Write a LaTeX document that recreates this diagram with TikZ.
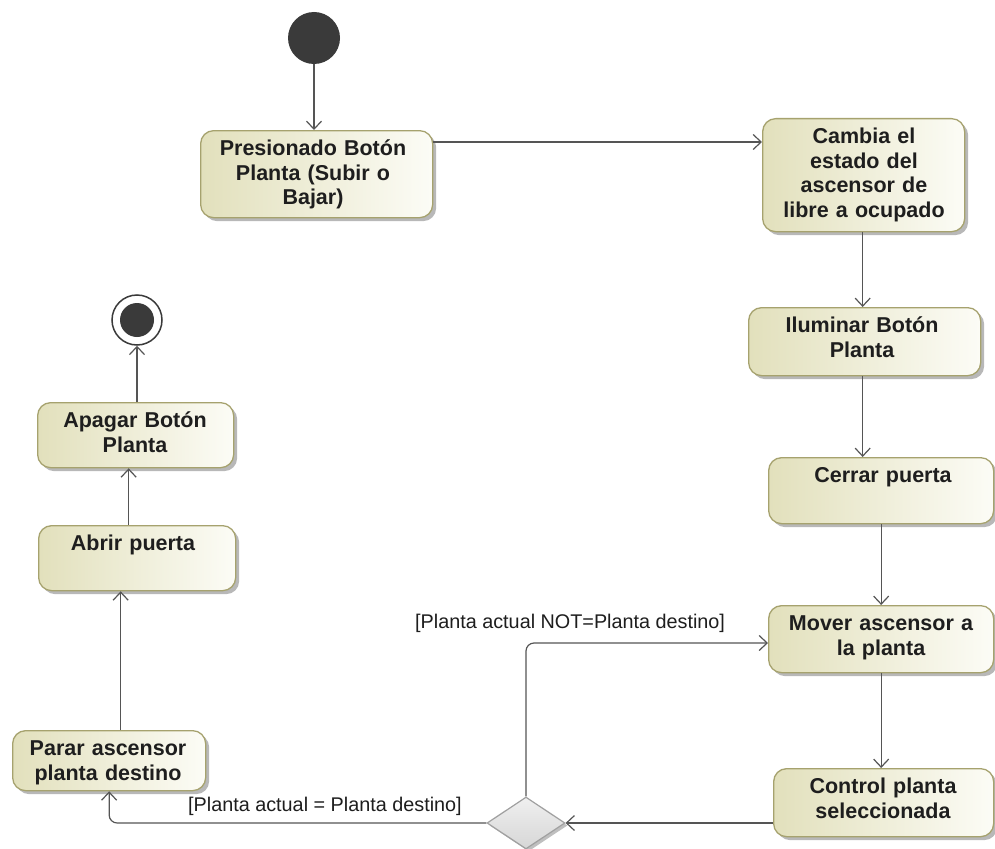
\documentclass[tikz,border=0pt]{standalone}
\usepackage{fontspec}
\setmainfont{Liberation Sans}
\usetikzlibrary{arrows.meta,shapes.geometric,shadows}

\definecolor{boxL}{RGB}{226,224,188}
\definecolor{boxR}{RGB}{252,252,246}
\definecolor{boxEdge}{RGB}{166,162,110}
\definecolor{flowGray}{RGB}{85,85,85}
\definecolor{inkDark}{RGB}{30,30,30}
\definecolor{dotDark}{RGB}{58,58,58}
\definecolor{decEdge}{RGB}{160,160,160}

\tikzset{
  actbox/.style={draw=boxEdge, line width=1.3pt, rounded corners=13pt,
    left color=boxL, right color=boxR, inner sep=0pt, anchor=north west,
    drop shadow={shadow xshift=3.5pt, shadow yshift=-3.5pt, fill=black, opacity=0.28}},
  acttext/.style={anchor=north, inner sep=0pt, align=center, text=inkDark,
    font=\bfseries\fontsize{21.5}{24.5}\selectfont},
  guard/.style={anchor=west, inner sep=0pt, text=inkDark,
    font=\fontsize{19.8}{23}\selectfont},
  flow/.style={draw=flowGray, line width=1.2pt,
    -{Straight Barb[length=8pt,width=15pt]}},
}

% action box: name, left, top, width, height, text centre x, text
\newcommand\actnode[7]{%
  \node[actbox, minimum width=#4pt, minimum height=#5pt] (#1) at (#2,#3) {};
  \node[acttext, text width={#4pt-8pt}] (#1-t) at (#6,#3+8.7) {\rule{0pt}{17pt}#7};
}

\begin{document}
\begin{tikzpicture}[x=1pt,y=-1pt]
\useasboundingbox (0,0) rectangle (995,848);
\fill[white] (0,0) rectangle (995,848);

% initial and final nodes
\node[circle, fill=dotDark, minimum size=52pt, inner sep=0pt] (start) at (314,38) {};
\node[circle, draw=dotDark, line width=1.5pt, fill=white, minimum size=50pt, inner sep=0pt] (end) at (137,320) {};
\node[circle, fill=dotDark, minimum size=34pt, inner sep=0pt] (end-dot) at (end.center) {};

% actions
\actnode{press}{200}{130}{232}{87}{313}{Presionado Botón\\Planta (Subir o\\Bajar)}
\actnode{change}{762}{118}{202}{113}{864}{Cambia el\\estado del\\ascensor de\\libre a ocupado}
\actnode{light}{748}{307}{232}{68}{862}{Iluminar Botón\\Planta}
\actnode{close}{768}{457}{225}{66}{883}{Cerrar puerta}
\actnode{move}{768}{605}{225}{67}{881}{Mover ascensor a\\la planta}
\actnode{ctrl}{773}{768}{220}{68}{883}{Control planta\\seleccionada}
\actnode{stop}{12}{730}{193}{60}{108}{Parar ascensor\\planta destino}
\actnode{open}{38}{525}{197}{65}{133}{Abrir puerta}
\actnode{off}{37}{402}{196}{65}{135}{Apagar Botón\\Planta}

% decision
\node[diamond, draw=decEdge, line width=1.2pt, top color=gray!12, bottom color=gray!32,
  minimum width=78pt, minimum height=52pt, inner sep=0pt, aspect=1.5,
  drop shadow={shadow xshift=2.5pt, shadow yshift=-2.5pt, fill=black, opacity=0.25}] (dec) at (526,823) {};

% flows
\draw[flow] (start.south) -- (press.north -| start);
\draw[flow] ([yshift=-12pt]press.north east) -- ([yshift=-12pt]press.north east -| change.west);
\draw[flow] ([xshift=-1pt]change.south) -- ([xshift=-1pt]change.south |- light.north);
\draw[flow] ([xshift=-2pt]light.south) -- ([xshift=-2pt]light.south |- close.north);
\draw[flow] (close.south) -- (close.south |- move.north);
\draw[flow] (move.south) -- (move.south |- ctrl.north);
\draw[flow] (dec.east -| ctrl.west) -- (dec.east);
\draw[flow, rounded corners=8pt] (dec.north) |- ([yshift=-38pt]move.north west);
\draw[flow, rounded corners=8pt] (dec.west) -| (stop.south);
\draw[flow] ([xshift=11.5pt]stop.north) -- ([xshift=11.5pt]stop.north |- open.south);
\draw[flow] ([xshift=-8.5pt]open.north) -- ([xshift=-8.5pt]open.north |- off.south);
\draw[flow] (end.south |- off.north) -- (end.south);

% guards
\node[guard] (g-not) at (415,623) {[Planta actual NOT=Planta destino]};
\node[guard] (g-eq) at (188,806) {[Planta actual = Planta destino]};
\end{tikzpicture}
\end{document}
